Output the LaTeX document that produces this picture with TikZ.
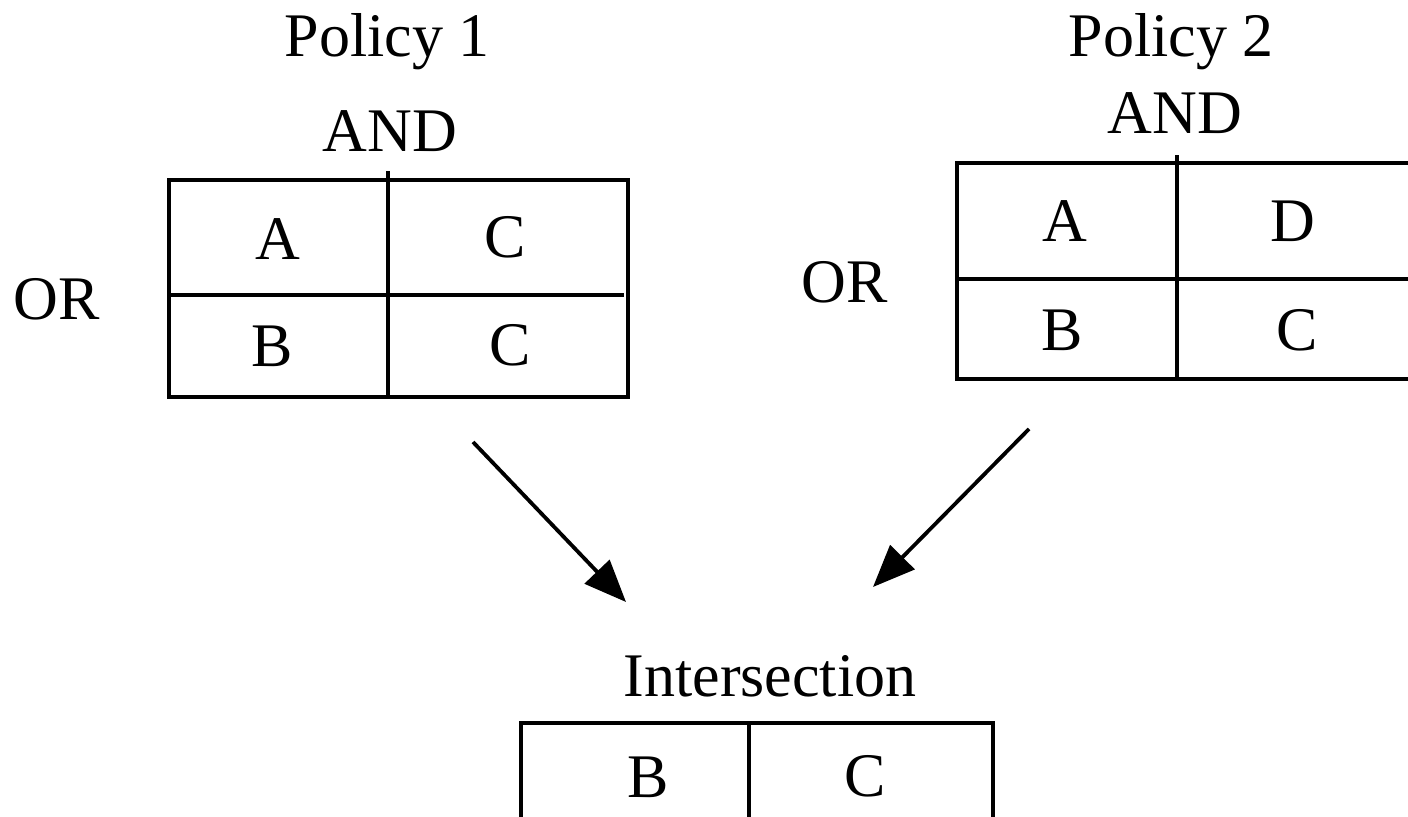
\documentclass[tikz,border=0pt]{standalone}
\usepackage{fontspec}
\setmainfont{Liberation Serif}
\usetikzlibrary{arrows.meta}
\begin{document}
\begin{tikzpicture}[x=0.5pt,y=-0.5pt,
  rule/.style={line width=1.9pt, line cap=rect},
  lbl/.style={anchor=base, inner sep=0pt, font=\fontsize{31}{36}\selectfont},
  flow/.style={line width=1.9pt, -{Triangle[length=21pt,width=17pt]}}]
\useasboundingbox (0,0) rectangle (1408,817);

% ---- Policy 1 ----
\node[lbl] (p1)   at (387,57)  {Policy 1};
\node[lbl] (and1) at (390,152) {AND};
\node[lbl] (or1)  at (57,320)  {OR};
\draw[rule] (169,180) -- (628,180) -- (628,397) -- (169,397) -- cycle;
\draw[rule] (169,295) -- (622,295);
\draw[rule] (388,173) -- (388,395);
\node[lbl] (p1a)  at (278,260) {A};
\node[lbl] (p1c1) at (505,258) {C};
\node[lbl] (p1b)  at (272,367) {B};
\node[lbl] (p1c2) at (510,366) {C};

% ---- Policy 2 ----
\node[lbl] (p2)   at (1171,57)  {Policy 2};
\node[lbl] (and2) at (1175,134) {AND};
\node[lbl] (or2)  at (845,303)  {OR};
\draw[rule] (1408,163) -- (957,163) -- (957,379) -- (1408,379);
\draw[rule] (957,279) -- (1408,279);
\draw[rule] (1177,157) -- (1177,379);
\node[lbl] (p2a) at (1065,242) {A};
\node[lbl] (p2d) at (1293,242) {D};
\node[lbl] (p2b) at (1062,351) {B};
\node[lbl] (p2c) at (1297,351) {C};

% ---- Intersection ----
\node[lbl] (ix)  at (770,697) {Intersection};
\draw[rule] (521,817) -- (521,723) -- (993,723) -- (993,817);
\draw[rule] (749,723) -- (749,817);
\node[lbl] (ixb) at (648,797) {B};
\node[lbl] (ixc) at (865,796) {C};

% ---- arrows into the intersection ----
\coordinate (s1) at (473,442);
\coordinate (t1) at (626,602);
\coordinate (s2) at (1029,429);
\coordinate (t2) at (873,587);
\draw[flow] (s1) -- (t1);
\draw[flow] (s2) -- (t2);
\end{tikzpicture}
\end{document}
